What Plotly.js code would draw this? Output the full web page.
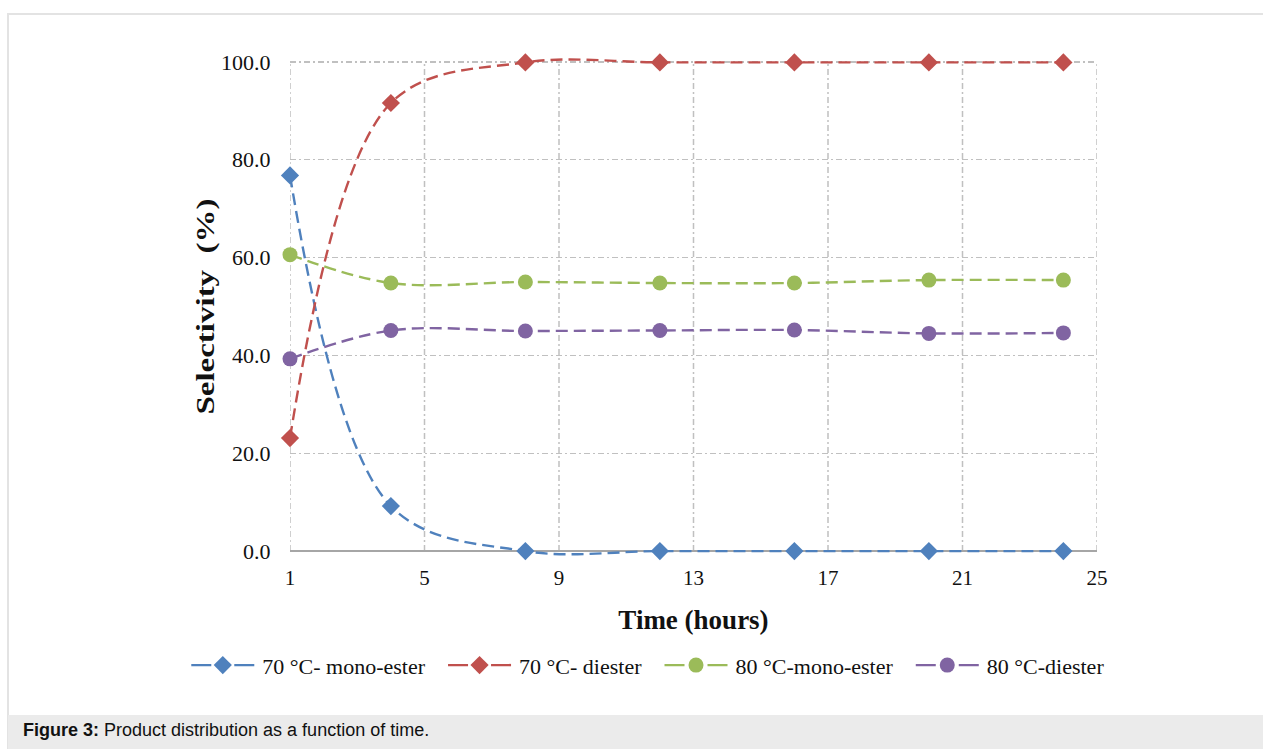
<!DOCTYPE html>
<html>
<head>
<meta charset="utf-8">
<script src="https://cdn.plot.ly/plotly-3.0.1.min.js"></script>
<style>
  html, body { margin: 0; padding: 0; background: #ffffff; }
  #wrap { position: relative; width: 1263px; height: 749px; overflow: hidden; }
  #frame { position: absolute; left: 7px; top: 13px; width: 1300px; height: 800px;
           border-left: 2px solid #e3e3e3; border-top: 2px solid #e3e3e3; box-sizing: border-box; }
  #chart { position: absolute; left: 0; top: 0; width: 1263px; height: 749px; }
  #caption { position: absolute; left: 8px; top: 715px; width: 1300px; height: 40px; background: #ebebeb;
             font-family: "Liberation Sans", Arial, sans-serif; font-size: 18px; color: #111;
             box-sizing: border-box; padding-left: 15px; padding-top: 5px; }
</style>
</head>
<body>
<div id="wrap">
  <div id="frame"></div>
  <div id="chart"></div>
  <div id="caption"><b>Figure 3:</b> Product distribution as a function of time.</div>
</div>
<script>
const timeHours = [1, 4, 8, 12, 16, 20, 24];
const mono70 = [76.8, 9.2, 0.0, 0.0, 0.0, 0.0, 0.0];
const di70 = [23.1, 91.6, 99.9, 99.9, 99.9, 99.9, 99.9];
const mono80 = [60.6, 54.8, 55.0, 54.8, 54.8, 55.4, 55.4];
const di80 = [39.3, 45.1, 45.0, 45.1, 45.2, 44.5, 44.6];
const seriesNames = ["70 °C- mono-ester", "70 °C- diester", "80 °C-mono-ester", "80 °C-diester"];
const xTicks = [1, 5, 9, 13, 17, 21, 25];
const yTicks = [0, 20, 40, 60, 80, 100];

const colors = ["#4F81BD", "#C0504D", "#9BBB59", "#8064A2"];
const symbols = ["diamond", "diamond", "circle", "circle"];
const sizes = [14, 14, 15, 15];
const data = [mono70, di70, mono80, di80].map((ys, i) => ({
  x: timeHours, y: ys, name: seriesNames[i], type: "scatter", mode: "lines+markers",
  line: { color: colors[i], width: 2.4, dash: "12px,6px", shape: "spline", smoothing: 1 },
  marker: { color: colors[i], symbol: symbols[i], size: sizes[i] },
  cliponaxis: false
}));

const gridColor = "#c0c0c0";
const gridDash = "6px,3px,2px,3px";
const vGrid = xTicks.map(v => ({
  type: "line", xref: "x", yref: "y", x0: v, x1: v, y0: yTicks[0], y1: yTicks[yTicks.length - 1],
  line: { color: gridColor, width: 1.5, dash: gridDash }, layer: "below"
}));

const serif = "Liberation Serif, Times New Roman, serif";
const layout = {
  width: 1263, height: 749,
  margin: { l: 290, r: 166, t: 57, b: 193 },
  paper_bgcolor: "rgba(0,0,0,0)", plot_bgcolor: "rgba(0,0,0,0)",
  showlegend: true,
  shapes: vGrid,
  legend: { orientation: "h", x: 0.5, xanchor: "center", y: -0.219, yanchor: "middle",
            font: { family: serif, size: 22, color: "#111" }, tracegroupgap: 0 },
  xaxis: {
    range: [1, 25], tickvals: xTicks, ticktext: xTicks.map(String), showgrid: false,
    showline: false, zeroline: false, ticks: "outside", ticklen: 3, tickcolor: "rgba(0,0,0,0)",
    tickfont: { family: serif, size: 21, color: "#111" },
    title: { text: "<b>Time (hours)</b>", font: { family: serif, size: 27, color: "#111" }, standoff: 20 }
  },
  yaxis: {
    range: [-1, 101], tickvals: yTicks, ticktext: yTicks.map(v => v.toFixed(1)), showgrid: true,
    gridcolor: gridColor, griddash: gridDash, gridwidth: 1.5,
    showline: false, zeroline: true, zerolinecolor: "#a6a6a6", zerolinewidth: 2,
    ticks: "outside", ticklen: 14, tickcolor: "rgba(0,0,0,0)",
    tickfont: { family: serif, size: 22, color: "#111" },
    title: { text: "<b>Selectivity  (%)</b>", font: { family: serif, size: 26, color: "#111" }, standoff: 2 }
  }
};
Plotly.newPlot("chart", data, layout, { displayModeBar: false, staticPlot: true }).then(() => {
  try {
    const t = document.querySelector(".g-ytitle text");
    if (t) {
      t.setAttribute("textLength", "216");
      t.setAttribute("lengthAdjust", "spacingAndGlyphs");
    }
    const g = document.querySelector(".g-ytitle");
    if (g) g.setAttribute("transform", "translate(4,0)");
  } catch (e) {}
  try {
    const items = Array.from(document.querySelectorAll(".legend .traces"));
    if (items.length) {
      const parent = items[0].parentNode;
      const pE = parent.getCTM().e;
      const y0 = items[0].transform.baseVal.consolidate().matrix.f;
      const texts = items.map(tr => tr.querySelector("text.legendtext"));
      const widths = texts.map(tx => tx ? tx.getComputedTextLength() : 0);
      const symW = 76, gap = 18;
      const total = widths.reduce((s, w) => s + symW + w, 0) + gap * (items.length - 1);
      let x = 645 - total / 2;
      items.forEach((tr, i) => {
        tr.setAttribute("transform", "translate(" + (x - pE) + "," + y0 + ")");
        if (texts[i]) texts[i].setAttribute("x", symW);
        tr.querySelectorAll(".legendlines path").forEach(p => {
          p.setAttribute("d", "M5,0h63");
          p.style.strokeDasharray = "20px,23px";
        });
        tr.querySelectorAll(".legendpoints path").forEach(p => {
          p.setAttribute("transform", "translate(36.5,0)");
        });
        x += symW + widths[i] + gap;
      });
      document.querySelectorAll(".legend [clip-path]").forEach(el => el.removeAttribute("clip-path"));
    }
  } catch (e) {}
});
</script>
</body>
</html>
